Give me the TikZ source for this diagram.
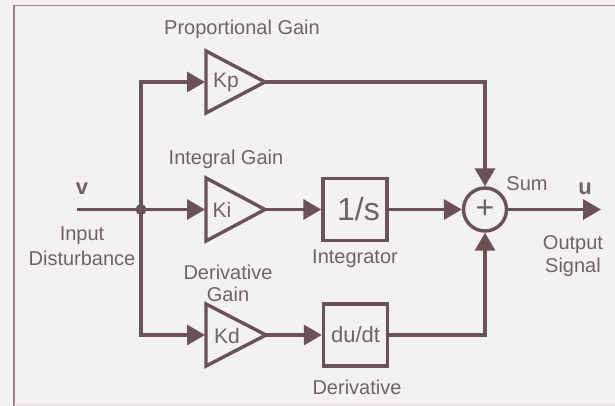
\documentclass[tikz,border=0pt]{standalone}
\usepackage{fontspec}
\setmainfont{Liberation Sans}
\usetikzlibrary{arrows.meta}
\definecolor{ink}{HTML}{6A5257}
\definecolor{txt}{HTML}{6E6468}
\definecolor{paper}{HTML}{F3F1F1}
\tikzset{
 x=1pt,y=-1pt,
 wire/.style={draw=ink,line width=3.3pt},
 arr/.style={wire,-{Triangle[length=18pt,width=20pt]}},
 gainshape/.style={draw=ink,line width=3.4pt,line join=miter},
 blockbox/.style={draw=ink,line width=3.4pt,minimum width=64pt,minimum height=62pt,inner sep=0pt,text=txt},
 lab/.style={text=txt,font=\fontsize{20}{24}\selectfont,align=center,inner sep=0pt},
 gainlab/.style={text=txt,font=\fontsize{21}{25}\selectfont,inner sep=0pt},
}
\begin{document}
\begin{tikzpicture}
\useasboundingbox (0,0) rectangle (615,406);
\fill[paper] (0,0) rectangle (615,406);
\draw[draw=ink!70,line width=1.2pt] (615,5.5) -- (14,5.5) -- (14,406);
\draw[draw=ink!25,line width=1pt] (14,404) -- (615,404);
% gain triangles
\coordinate (kpw) at (205,82);
\coordinate (kiw) at (205,209.5);
\coordinate (kdw) at (205,335);
\draw[gainshape] (206,51) -- (265,82) -- (206,113) -- cycle;
\draw[gainshape] (206,178) -- (265,209.5) -- (206,241) -- cycle;
\draw[gainshape] (206,304) -- (266,335) -- (206,366) -- cycle;
\coordinate (kpe) at (265,82);
\coordinate (kie) at (265,209.5);
\coordinate (kde) at (266,335);
\node[gainlab] (kp) at (226,82) {Kp};
\node[gainlab] (ki) at (222,210) {Ki};
\node[gainlab] (kd) at (227,336) {Kd};
% blocks
\node[blockbox,font=\fontsize{32}{36}\selectfont] (int) at (355,209.5) {\hspace{7pt}1/s};
\node[blockbox,font=\fontsize{22}{26}\selectfont] (der) at (355.5,335) {du/dt};
\node[circle,draw=ink,line width=3.4pt,minimum size=43pt,inner sep=0pt,text=txt,font=\fontsize{32}{36}\selectfont] (sum) at (485,209.5) {+};
% wires
\coordinate (vs) at (77,209.5);
\coordinate (j) at (141,209.5);
\coordinate (out) at (601,209.5);
\draw[wire] (vs) -- (j);
\draw[arr] (j) -- (kiw);
\draw[arr] (j) -- (141,82) -- (kpw);
\draw[arr] (j) -- (141,335) -- (kdw);
\fill[ink] (j) circle (5.5pt);
\draw[arr] (kie) -- (int.west);
\draw[arr] (kde) -- (der.west);
\draw[arr] (kpe) -- (485,82) -- (sum.north);
\draw[arr] (int.east) -- (sum.west);
\draw[arr] (der.east) -- (485,335) -- (sum.south);
\draw[arr] (sum.east) -- (out);
% labels
\node[lab] (l1) at (242,29) {Proportional Gain};
\node[lab] (l2) at (226,159) {Integral Gain};
\node[lab,font=\fontsize{22}{24}\selectfont\bfseries] (l3) at (82,189) {v};
\node[lab] (l4) at (82,236) {Input};
\node[lab] (l5) at (82,258) {Disturbance};
\node[lab] (l6) at (228,272) {Derivative};
\node[lab] (l7) at (228,294) {Gain};
\node[lab] (l8) at (355,259) {Integrator};
\node[lab] (l9) at (357,387) {Derivative};
\node[lab] (l10) at (527,184) {Sum};
\node[lab,font=\fontsize{22}{24}\selectfont\bfseries] (l11) at (585,189) {u};
\node[lab] (l12) at (573,245) {Output};
\node[lab] (l13) at (573,267) {Signal};
\end{tikzpicture}
\end{document}
